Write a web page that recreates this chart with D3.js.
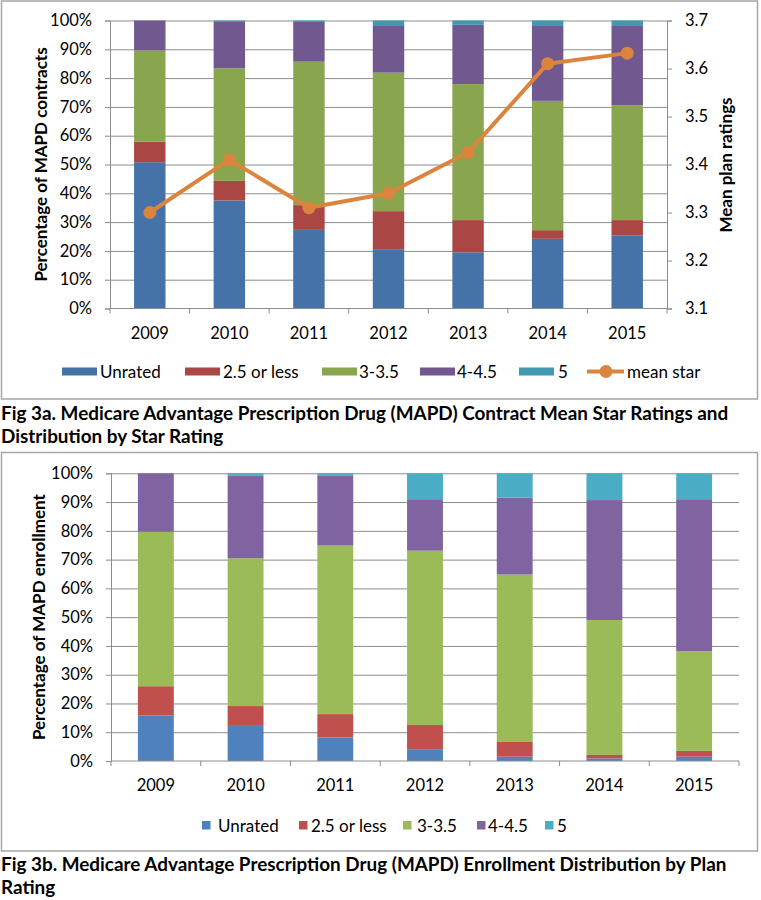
<!DOCTYPE html>
<html><head><meta charset="utf-8">
<script src="https://cdn.jsdelivr.net/npm/d3@7"></script>
<style>
body{margin:0;background:#fff}
svg{display:block}
text{font-family:Lato,"Open Sans",sans-serif;fill:#000}
</style>
</head><body>
<svg id="c" width="761" height="900"></svg>
<script>
// ---------- DATA ----------
const years = ["2009","2010","2011","2012","2013","2014","2015"];
const seriesNames = ["Unrated","2.5 or less","3-3.5","4-4.5","5"];

// Fig 3a: share of MAPD contracts (%)
const contractUnrated = [50.8, 37.5, 27.3, 20.6, 19.5, 24.2, 25.4];
const contractLow     = [ 7.1,  6.8,  8.6, 13.2, 11.2,  3.0,  5.3];
const contractMid     = [31.7, 39.1, 49.8, 48.1, 47.2, 44.9, 39.9];
const contractHigh    = [10.4, 16.3, 13.8, 16.2, 20.6, 26.0, 27.5];
const contractFive    = [ 0.0,  0.3,  0.5,  1.9,  1.5,  1.9,  1.9];
const meanStar        = [3.30, 3.41, 3.31, 3.34, 3.425, 3.61, 3.632];

// Fig 3b: share of MAPD enrollment (%)
const enrollUnrated = [15.8, 12.5,  8.2,  4.1,  1.5,  0.9,  1.5];
const enrollLow     = [10.2,  6.6,  8.1,  8.4,  5.1,  1.2,  2.0];
const enrollMid     = [53.7, 51.4, 58.6, 60.6, 58.2, 46.9, 34.6];
const enrollHigh    = [20.3, 28.6, 24.2, 17.9, 26.7, 41.7, 52.9];
const enrollFive    = [ 0.0,  0.9,  0.9,  9.0,  8.5,  9.3,  9.0];

const pctTicks = [0,10,20,30,40,50,60,70,80,90,100];
const starTicks = [3.1,3.2,3.3,3.4,3.5,3.6,3.7];

const colorsA = ["#4572A7","#AA4643","#89A54E","#71588F","#4198AF"];
const lineColor = "#DB843D";
const colorsB = ["#4F81BD","#C0504D","#9BBB59","#8064A2","#4BACC6"];

// ---------- HELPERS ----------
const svg = d3.select("#c");
const gridColor = "#8c8c8c";
const FS = 16.5;
const TFS = 17;

function buildTable(arrs){
  return years.map((y,i)=>{
    const o={year:y};
    seriesNames.forEach((s,j)=>o[s]=arrs[j][i]);
    return o;
  });
}

function frame(x0,y0,x1,y1){
  svg.append("rect").attr("x",x0).attr("y",y0).attr("width",x1-x0).attr("height",y1-y0)
    .attr("fill","none").attr("stroke","#a6a6a6").attr("stroke-width",1.5);
}

function drawStacked(opt){
  const {left,right,top,bottom,arrs,colors,yTitle,yTitleX,labelY} = opt;
  const x = d3.scaleBand().domain(years).range([left,right]).paddingInner(opt.pad).paddingOuter(opt.pad/2);
  const y = d3.scaleLinear().domain([0,100]).range([bottom,top]);
  const g = svg.append("g");

  // gridlines
  g.append("g").attr("transform",`translate(${left},0)`)
    .call(d3.axisLeft(y).tickValues(pctTicks.slice(1)).tickSize(-(right-left)).tickFormat(""))
    .call(s=>s.select(".domain").remove())
    .call(s=>s.selectAll("line").attr("stroke",gridColor).attr("stroke-width",1));

  // stacked bars
  const stack = d3.stack().keys(seriesNames)(buildTable(arrs));
  g.selectAll("g.layer").data(stack).join("g").attr("fill",(d,i)=>colors[i])
    .selectAll("rect").data(d=>d).join("rect")
    .attr("x",d=>x(d.data.year)).attr("width",x.bandwidth())
    .attr("y",d=>y(d[1])).attr("height",d=>Math.max(0,y(d[0])-y(d[1])));

  // left axis
  g.append("g").attr("transform",`translate(${left},0)`)
    .call(d3.axisLeft(y).tickValues(pctTicks).tickSize(5).tickPadding(13).tickFormat(d=>d+"%"))
    .call(s=>s.select(".domain").attr("stroke",gridColor))
    .call(s=>s.selectAll("line").attr("stroke",gridColor))
    .call(s=>s.selectAll("text").attr("font-size",FS).attr("font-family","Lato").attr("fill","#000"));

  // bottom axis line + boundary ticks
  g.append("line").attr("x1",left).attr("x2",right).attr("y1",bottom).attr("y2",bottom).attr("stroke",gridColor);
  d3.range(years.length+1).forEach(i=>{
    const xx = left + i*x.step();
    g.append("line").attr("x1",xx).attr("x2",xx).attr("y1",bottom).attr("y2",bottom+5).attr("stroke",gridColor);
  });
  g.selectAll("text.yr").data(years).join("text").attr("class","yr")
    .attr("x",d=>x(d)+x.bandwidth()/2).attr("y",labelY).attr("text-anchor","middle")
    .attr("dominant-baseline","central").attr("font-size",FS).text(d=>d);

  // y title
  g.append("text").attr("transform",`translate(${yTitleX},${(top+bottom)/2}) rotate(-90)`)
    .attr("text-anchor","middle").attr("dominant-baseline","central")
    .attr("font-size",TFS).attr("font-weight","bold").text(yTitle);
  return {x,y,g};
}

// ---------- FIG 3a ----------
frame(1.5,1,757.5,399);
const A = drawStacked({left:110,right:667,top:20.5,bottom:308.5,pad:0.605,
  arrs:[contractUnrated,contractLow,contractMid,contractHigh,contractFive],
  colors:colorsA,yTitle:"Percentage of MAPD  contracts",yTitleX:40,labelY:333});

const y2 = d3.scaleLinear().domain([3.1,3.7]).range([308.5,20.5]);
A.g.append("g").attr("transform","translate(667,0)")
  .call(d3.axisRight(y2).tickValues(starTicks).tickSize(5).tickPadding(13).tickFormat(d3.format(".1f")))
  .call(s=>s.select(".domain").attr("stroke",gridColor))
  .call(s=>s.selectAll("line").attr("stroke",gridColor))
  .call(s=>s.selectAll("text").attr("font-size",FS).attr("font-family","Lato").attr("fill","#000"));
A.g.append("text").attr("transform",`translate(725,165) rotate(-90)`)
  .attr("text-anchor","middle").attr("dominant-baseline","central")
  .attr("font-size",TFS).attr("font-weight","bold").text("Mean plan ratings");

const cx = d=>A.x(d)+A.x.bandwidth()/2;
A.g.append("path").datum(years.map((yr,i)=>[cx(yr),y2(meanStar[i])]))
  .attr("d",d3.line()).attr("fill","none").attr("stroke",lineColor).attr("stroke-width",4).attr("stroke-linejoin","round");
A.g.selectAll("circle.m").data(years).join("circle").attr("class","m")
  .attr("cx",cx).attr("cy",(d,i)=>y2(meanStar[i])).attr("r",6.5).attr("fill",lineColor);

// legend 3a
const legA = [[62,100],[185,223],[322,359],[420,457],[519,558]];
seriesNames.forEach((s,i)=>{
  svg.append("rect").attr("x",legA[i][0]).attr("y",367.5).attr("width",35).attr("height",8).attr("fill",colorsA[i]);
  svg.append("text").attr("x",legA[i][1]).attr("y",371.5).attr("dominant-baseline","central").attr("font-size",17).text(s);
});
svg.append("line").attr("x1",587).attr("x2",624).attr("y1",371.5).attr("y2",371.5).attr("stroke",lineColor).attr("stroke-width",4);
svg.append("circle").attr("cx",606).attr("cy",371.5).attr("r",6.5).attr("fill",lineColor);
svg.append("text").attr("x",627).attr("y",371.5).attr("dominant-baseline","central").attr("font-size",17).text("mean star");

// ---------- FIG 3b ----------
frame(1.5,452.5,757.5,851);
const B = drawStacked({left:111,right:739,top:473.3,bottom:761,pad:0.6,
  arrs:[enrollUnrated,enrollLow,enrollMid,enrollHigh,enrollFive],
  colors:colorsB,yTitle:"Percentage of MAPD enrollment",yTitleX:38,labelY:785});

const legB = [[202,218],[299,311],[403,417],[477,488],[545,557]];
seriesNames.forEach((s,i)=>{
  svg.append("rect").attr("x",legB[i][0]).attr("y",821).attr("width",8.5).attr("height",8.5).attr("fill",colorsB[i]);
  svg.append("text").attr("x",legB[i][1]).attr("y",825.5).attr("dominant-baseline","central").attr("font-size",17).text(s);
});

// ---------- CAPTIONS ----------
const caps = [
  ["Fig 3a. Medicare Advantage Prescription Drug (MAPD) Contract Mean Star Ratings and",420],
  ["Distribution by Star Rating",443],
  ["Fig 3b. Medicare Advantage Prescription Drug (MAPD) Enrollment Distribution by Plan",871],
  ["Rating",894]
];
const capTexts = caps.map(c=>svg.append("text").attr("x",1).attr("y",c[1]).attr("font-weight","bold").attr("font-size",17).text(c[0]));
const w0 = capTexts[0].node().getComputedTextLength();
const capSize = 17*728/w0;
capTexts.forEach(t=>t.attr("font-size",capSize));
</script>
</body></html>
